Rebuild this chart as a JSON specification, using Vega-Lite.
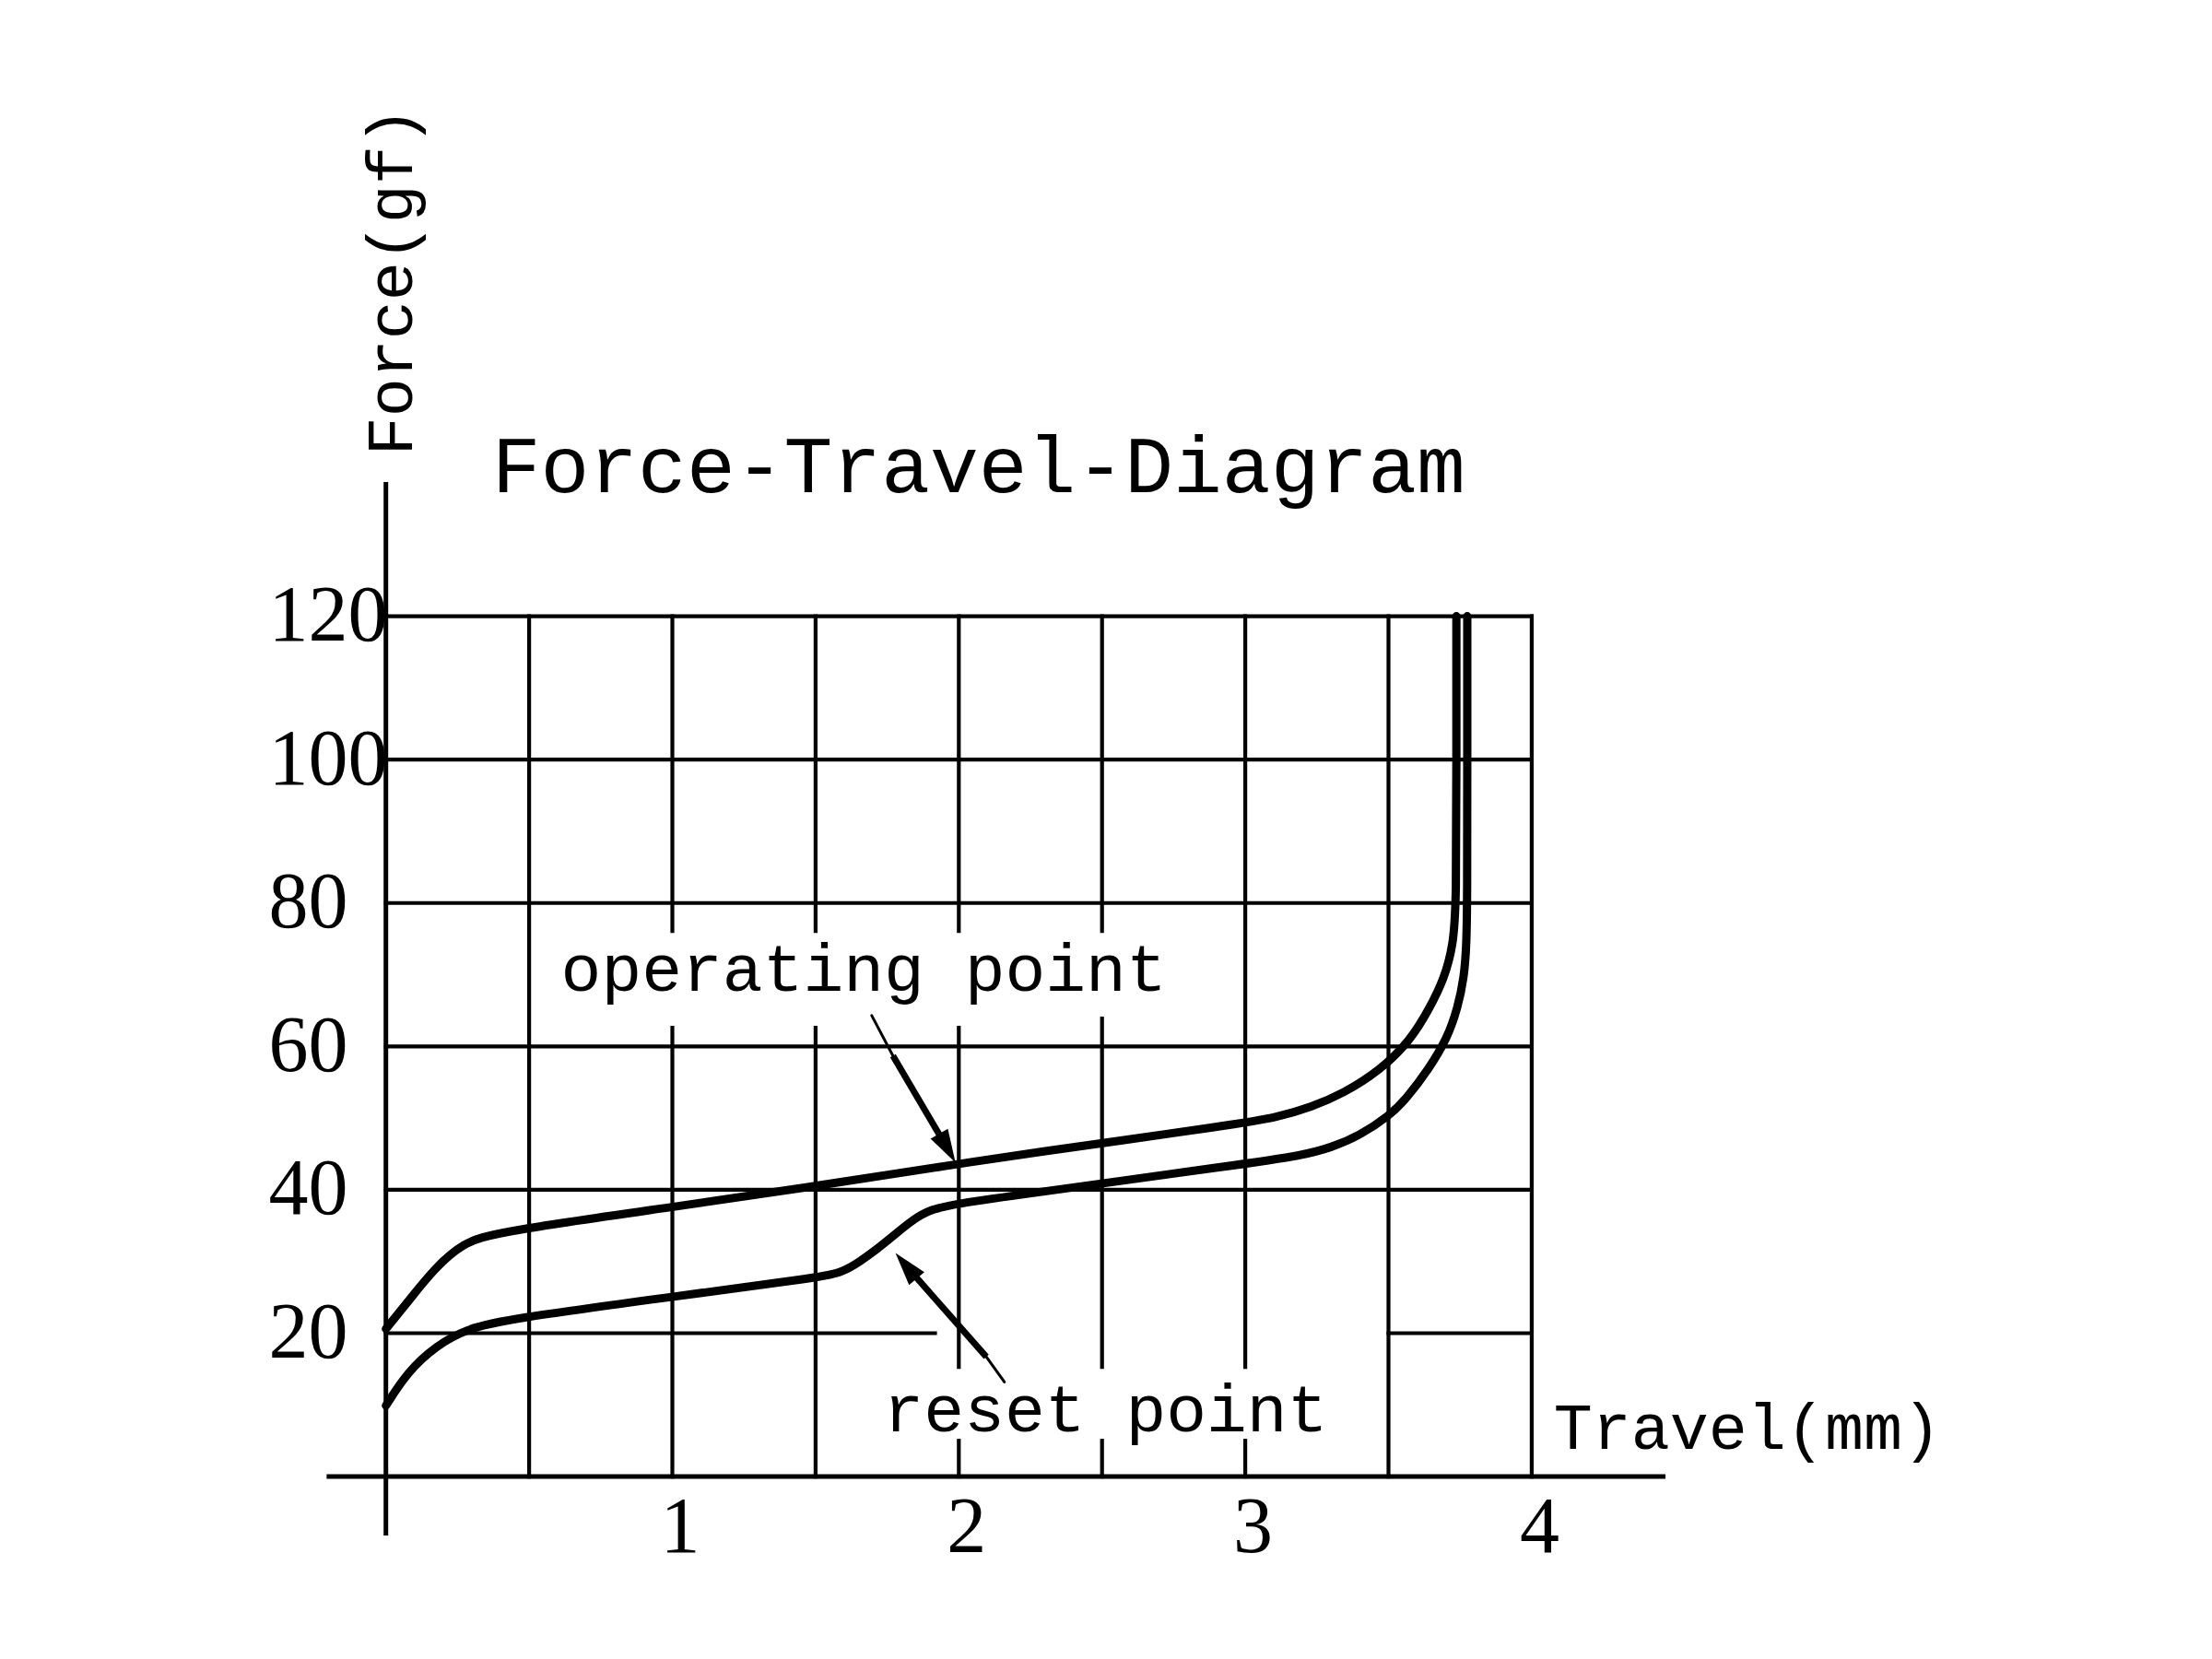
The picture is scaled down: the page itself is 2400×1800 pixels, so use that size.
{
  "$schema": "https://vega.github.io/schema/vega-lite/v6.json",
  "width": 1554,
  "height": 1170,
  "autosize": {"type": "none"},
  "padding": {"left": 341, "top": 513, "right": 505, "bottom": 117},
  "background": "white",
  "config": {"view": {"stroke": null}},
  "datasets": {
    "grid": [
      {"x": 0.5, "y": 0, "x2": 0.5, "y2": 120},
      {"x": 1, "y": 0, "x2": 1, "y2": 62.6},
      {"x": 1, "y": 76.1, "x2": 1, "y2": 120},
      {"x": 1.5, "y": 0, "x2": 1.5, "y2": 62.6},
      {"x": 1.5, "y": 76.1, "x2": 1.5, "y2": 120},
      {"x": 2, "y": 0, "x2": 2, "y2": 5.0},
      {"x": 2, "y": 15.3, "x2": 2, "y2": 62.6},
      {"x": 2, "y": 76.1, "x2": 2, "y2": 120},
      {"x": 2.5, "y": 0, "x2": 2.5, "y2": 5.0},
      {"x": 2.5, "y": 15.3, "x2": 2.5, "y2": 63.9},
      {"x": 2.5, "y": 76.1, "x2": 2.5, "y2": 120},
      {"x": 3, "y": 0, "x2": 3, "y2": 5.0},
      {"x": 3, "y": 15.3, "x2": 3, "y2": 120},
      {"x": 3.5, "y": 0, "x2": 3.5, "y2": 120},
      {"x": 4, "y": 0, "x2": 4, "y2": 120},
      {"x": 0, "y": 20, "x2": 1.917, "y2": 20},
      {"x": 3.5, "y": 20, "x2": 4, "y2": 20},
      {"x": 0, "y": 40, "x2": 4, "y2": 40},
      {"x": 0, "y": 60, "x2": 4, "y2": 60},
      {"x": 0, "y": 80, "x2": 4, "y2": 80},
      {"x": 0, "y": 100, "x2": 4, "y2": 100},
      {"x": 0, "y": 120, "x2": 4, "y2": 120}
    ],
    "axes": [
      {"x": 0, "y": -8.2, "x2": 0, "y2": 138.7},
      {"x": -0.207, "y": 0, "x2": 4.467, "y2": 0}
    ],
    "arrows": [
      {"part": "thin", "x": 1.696, "y": 64.3, "x2": 1.770, "y2": 58.7},
      {"part": "thick", "x": 1.770, "y": 58.7, "x2": 1.960, "y2": 45.8},
      {"part": "thin", "x": 2.159, "y": 13.2, "x2": 2.096, "y2": 16.7},
      {"part": "thick", "x": 2.096, "y": 16.7, "x2": 1.816, "y2": 29.4}
    ],
    "heads": [
      {"name": "operating", "x": 1.960, "y": 45.8},
      {"name": "reset", "x": 1.816, "y": 29.4}
    ],
    "curves": [
      {"series": "operating", "i": 0, "x": 0, "y": 20.6},
      {"series": "operating", "i": 1, "x": 0.085, "y": 24.8},
      {"series": "operating", "i": 2, "x": 0.169, "y": 29.0},
      {"series": "operating", "i": 3, "x": 0.269, "y": 32.6},
      {"series": "operating", "i": 4, "x": 0.384, "y": 34.1},
      {"series": "operating", "i": 5, "x": 1.002, "y": 37.6},
      {"series": "operating", "i": 6, "x": 1.497, "y": 40.5},
      {"series": "operating", "i": 7, "x": 1.998, "y": 43.6},
      {"series": "operating", "i": 8, "x": 2.196, "y": 44.8},
      {"series": "operating", "i": 9, "x": 2.996, "y": 49.3},
      {"series": "operating", "i": 10, "x": 3.100, "y": 50.0},
      {"series": "operating", "i": 11, "x": 3.235, "y": 51.6},
      {"series": "operating", "i": 12, "x": 3.340, "y": 53.4},
      {"series": "operating", "i": 13, "x": 3.469, "y": 56.6},
      {"series": "operating", "i": 14, "x": 3.576, "y": 60.8},
      {"series": "operating", "i": 15, "x": 3.642, "y": 65.2},
      {"series": "operating", "i": 16, "x": 3.695, "y": 69.5},
      {"series": "operating", "i": 17, "x": 3.726, "y": 74.1},
      {"series": "operating", "i": 18, "x": 3.737, "y": 80.0},
      {"series": "operating", "i": 19, "x": 3.737, "y": 100.0},
      {"series": "operating", "i": 20, "x": 3.737, "y": 120},
      {"series": "reset", "i": 0, "x": 0, "y": 9.9},
      {"series": "reset", "i": 1, "x": 0.075, "y": 14.6},
      {"series": "reset", "i": 2, "x": 0.176, "y": 18.3},
      {"series": "reset", "i": 3, "x": 0.284, "y": 20.6},
      {"series": "reset", "i": 4, "x": 0.413, "y": 21.9},
      {"series": "reset", "i": 5, "x": 1.002, "y": 25.1},
      {"series": "reset", "i": 6, "x": 1.497, "y": 27.7},
      {"series": "reset", "i": 7, "x": 1.590, "y": 28.4},
      {"series": "reset", "i": 8, "x": 1.655, "y": 30.0},
      {"series": "reset", "i": 9, "x": 1.710, "y": 31.6},
      {"series": "reset", "i": 10, "x": 1.763, "y": 33.3},
      {"series": "reset", "i": 11, "x": 1.838, "y": 35.8},
      {"series": "reset", "i": 12, "x": 1.902, "y": 37.3},
      {"series": "reset", "i": 13, "x": 2.000, "y": 38.1},
      {"series": "reset", "i": 14, "x": 2.192, "y": 39.2},
      {"series": "reset", "i": 15, "x": 2.996, "y": 43.6},
      {"series": "reset", "i": 16, "x": 3.200, "y": 44.8},
      {"series": "reset", "i": 17, "x": 3.300, "y": 45.9},
      {"series": "reset", "i": 18, "x": 3.397, "y": 47.5},
      {"series": "reset", "i": 19, "x": 3.505, "y": 50.4},
      {"series": "reset", "i": 20, "x": 3.560, "y": 52.6},
      {"series": "reset", "i": 21, "x": 3.640, "y": 56.8},
      {"series": "reset", "i": 22, "x": 3.705, "y": 61.1},
      {"series": "reset", "i": 23, "x": 3.742, "y": 65.4},
      {"series": "reset", "i": 24, "x": 3.764, "y": 69.7},
      {"series": "reset", "i": 25, "x": 3.772, "y": 73.9},
      {"series": "reset", "i": 26, "x": 3.775, "y": 80.0},
      {"series": "reset", "i": 27, "x": 3.775, "y": 100.0},
      {"series": "reset", "i": 28, "x": 3.775, "y": 120}
    ],
    "title": [{"text": "Force-Travel-Diagram", "x": 0.370, "y": 137.3}],
    "notes": [
      {"text": "operating point", "x": 0.611, "y": 67.7},
      {"text": "reset point", "x": 1.737, "y": 6.3}
    ],
    "xtitle": [{"text": "Travel(mm)", "x": 4.077, "y": 3.9}],
    "ytitle": [{"text": "Force(gf)", "x": 0.090, "y": 142.4}]
  },
  "encoding": {
    "x": {
      "field": "x", "type": "quantitative",
      "scale": {"domain": [-0.25, 4.75], "nice": false, "zero": false},
      "axis": {
        "values": [1, 2, 3, 4], "title": null, "grid": false, "ticks": false, "domain": false,
        "labelFont": "Liberation Serif", "labelFontSize": 86, "labelColor": "black",
        "labelBaseline": "alphabetic", "labelPadding": 0, "labelOffset": 8,
        "labelFlush": false, "labelOverlap": false
      }
    },
    "y": {
      "field": "y", "type": "quantitative",
      "scale": {"domain": [-10.4, 140], "nice": false, "zero": false},
      "axis": {
        "values": [20, 40, 60, 80, 100, 120], "title": null, "grid": false, "ticks": false, "domain": false,
        "labelFont": "Liberation Serif", "labelFontSize": 86, "labelColor": "black",
        "labelAlign": "left", "labelBaseline": "middle", "labelPadding": 50,
        "labelFlush": false, "labelOverlap": false
      }
    }
  },
  "layer": [
    {
      "data": {"name": "grid"},
      "mark": {"type": "rule", "color": "black", "strokeWidth": 4.2, "strokeCap": "square"},
      "encoding": {"x2": {"field": "x2"}, "y2": {"field": "y2"}}
    },
    {
      "data": {"name": "axes"},
      "mark": {"type": "rule", "color": "black", "strokeWidth": 5, "strokeCap": "butt"},
      "encoding": {"x2": {"field": "x2"}, "y2": {"field": "y2"}}
    },
    {
      "data": {"name": "curves"},
      "mark": {"type": "line", "color": "black", "strokeWidth": 9, "strokeCap": "round", "strokeJoin": "round", "interpolate": "basis"},
      "encoding": {"detail": {"field": "series"}, "order": {"field": "i", "type": "quantitative"}}
    },
    {
      "data": {"name": "arrows"},
      "transform": [{"filter": "datum.part === 'thin'"}],
      "mark": {"type": "rule", "color": "black", "strokeWidth": 3, "strokeCap": "round"},
      "encoding": {"x2": {"field": "x2"}, "y2": {"field": "y2"}}
    },
    {
      "data": {"name": "arrows"},
      "transform": [{"filter": "datum.part === 'thick'"}],
      "mark": {"type": "rule", "color": "black", "strokeWidth": 7, "strokeCap": "butt"},
      "encoding": {"x2": {"field": "x2"}, "y2": {"field": "y2"}}
    },
    {
      "data": {"name": "heads"},
      "transform": [{"filter": "datum.name === 'operating'"}],
      "mark": {"type": "point", "shape": "M0,-1L0.6,1L-0.6,1Z", "filled": true, "color": "black", "opacity": 1, "size": 1296, "angle": 150.5, "strokeWidth": 0}
    },
    {
      "data": {"name": "heads"},
      "transform": [{"filter": "datum.name === 'reset'"}],
      "mark": {"type": "point", "shape": "M0,-1L0.6,1L-0.6,1Z", "filled": true, "color": "black", "opacity": 1, "size": 1296, "angle": 320.2, "strokeWidth": 0}
    },
    {
      "data": {"name": "title"},
      "mark": {"type": "text", "font": "Liberation Mono", "fontSize": 88, "align": "left", "baseline": "alphabetic", "color": "black"},
      "encoding": {"text": {"field": "text"}}
    },
    {
      "data": {"name": "notes"},
      "mark": {"type": "text", "font": "Liberation Mono", "fontSize": 73, "align": "left", "baseline": "alphabetic", "color": "black"},
      "encoding": {"text": {"field": "text"}}
    },
    {
      "data": {"name": "xtitle"},
      "mark": {"type": "text", "font": "Liberation Mono", "fontSize": 70, "align": "left", "baseline": "alphabetic", "color": "black"},
      "encoding": {"text": {"field": "text"}}
    },
    {
      "data": {"name": "ytitle"},
      "mark": {"type": "text", "font": "Liberation Mono", "fontSize": 70, "align": "left", "baseline": "alphabetic", "angle": 270, "color": "black"},
      "encoding": {"text": {"field": "text"}}
    }
  ]
}
